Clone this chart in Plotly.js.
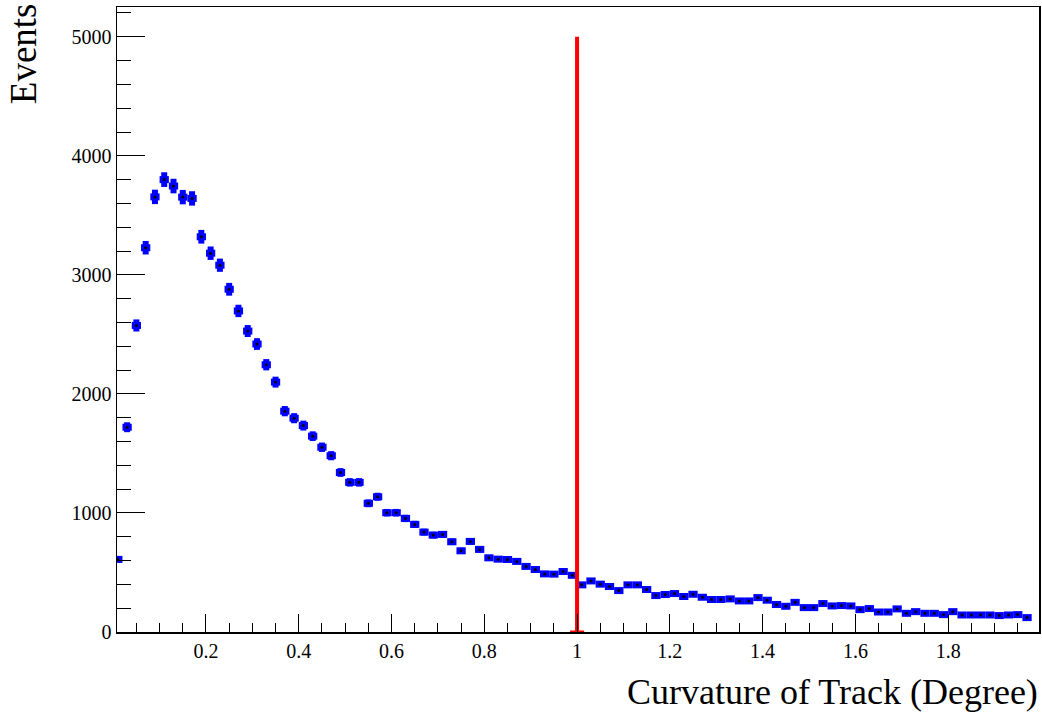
<!DOCTYPE html>
<html>
<head>
<meta charset="utf-8">
<script src="https://cdn.plot.ly/plotly-3.0.1.min.js"></script>
<style>html,body{margin:0;padding:0;background:#fff;}#chart{width:1042px;height:712px;}</style>
</head>
<body>
<div id="chart"></div>
<script>
// Bin centres (bin width 0.02)
const binCenters = [
  0.01,0.03,0.05,0.07,0.09,0.11,0.13,0.15,0.17,0.19,
  0.21,0.23,0.25,0.27,0.29,0.31,0.33,0.35,0.37,0.39,
  0.41,0.43,0.45,0.47,0.49,0.51,0.53,0.55,0.57,0.59,
  0.61,0.63,0.65,0.67,0.69,0.71,0.73,0.75,0.77,0.79,
  0.81,0.83,0.85,0.87,0.89,0.91,0.93,0.95,0.97,0.99,
  1.01,1.03,1.05,1.07,1.09,1.11,1.13,1.15,1.17,1.19,
  1.21,1.23,1.25,1.27,1.29,1.31,1.33,1.35,1.37,1.39,
  1.41,1.43,1.45,1.47,1.49,1.51,1.53,1.55,1.57,1.59,
  1.61,1.63,1.65,1.67,1.69,1.71,1.73,1.75,1.77,1.79,
  1.81,1.83,1.85,1.87,1.89,1.91,1.93,1.95,1.97
];
const binHalfWidth = 0.01;
// Events per bin
const events = [
  610,1720,2575,3228,3655,3800,3746,3653,3642,3320,
  3182,3081,2879,2697,2528,2419,2245,2099,1855,1796,
  1734,1645,1552,1481,1340,1257,1257,1081,1136,1002,
  1002,954,904,839,814,820,758,682,761,694,
  623,612,609,593,551,525,488,486,508,476,
  396,429,402,382,348,396,396,357,306,315,
  323,298,317,292,273,273,278,261,261,289,
  267,231,216,249,205,205,239,219,222,219,
  188,197,168,168,194,157,171,157,157,146,
  171,143,143,143,143,138,143,146,121
];
// Statistical (Poisson) errors
const eventErrors = events.map(v => Math.sqrt(v));
// Cut line
const cutX = [1.0, 1.0];
const cutY = [0, 5000];

const serif = 'Liberation Serif, Times New Roman, serif';

const traces = [
  {
    type: 'scatter', mode: 'markers',
    x: binCenters, y: events,
    marker: {color: 'black', size: 3},
    error_y: {type: 'data', array: eventErrors, visible: true, color: '#0000ff', thickness: 6, width: 0},
    error_x: {type: 'constant', value: binHalfWidth, visible: true, color: '#0000ff', thickness: 7, width: 0},
    hoverinfo: 'x+y', showlegend: false
  },
  {
    type: 'scatter', mode: 'lines',
    x: cutX, y: cutY,
    line: {color: '#ff0000', width: 4},
    showlegend: false
  },
  {
    type: 'scatter', mode: 'markers',
    x: [cutX[0]], y: [cutY[0]],
    marker: {symbol: 'line-ew', size: 10, color: '#ff0000', line: {color: '#ff0000', width: 3}},
    cliponaxis: false,
    showlegend: false
  }
];

const layout = {
  width: 1042, height: 712,
  margin: {l: 117, r: 3, t: 7, b: 80},
  paper_bgcolor: '#ffffff', plot_bgcolor: '#ffffff',
  font: {family: serif, color: '#000000', size: 20},
  showlegend: false,
  xaxis: {
    range: [0.0082, 1.9958],
    showgrid: false, zeroline: false,
    showline: true, linecolor: '#000', linewidth: 1.5, mirror: true,
    ticks: 'inside', ticklen: 18, tickwidth: 1, tickcolor: '#000',
    tick0: 0, dtick: 0.2,
    minor: {ticks: 'inside', ticklen: 9, tickwidth: 1, tickcolor: '#000', dtick: 0.05, tick0: 0, showgrid: false},
    tickfont: {family: serif, size: 20, color: '#000'}
  },
  yaxis: {
    range: [0, 5250],
    showgrid: false, zeroline: false,
    showline: true, linecolor: '#000', linewidth: 1.5, mirror: true,
    ticks: 'inside', ticklen: 28, tickwidth: 1, tickcolor: '#000',
    tick0: 0, dtick: 1000,
    minor: {ticks: 'inside', ticklen: 14, tickwidth: 1, tickcolor: '#000', dtick: 200, tick0: 0, showgrid: false},
    tickfont: {family: serif, size: 20, color: '#000'}
  },
  annotations: [
    {
      text: 'Events', xref: 'paper', yref: 'paper',
      x: -0.102, y: 1.01, xanchor: 'center', yanchor: 'top',
      textangle: -90, showarrow: false,
      font: {family: serif, size: 37, color: '#000'}
    },
    {
      text: 'Curvature of Track (Degree)', xref: 'paper', yref: 'paper',
      x: 1.001, y: -0.096, xanchor: 'right', yanchor: 'middle',
      showarrow: false,
      font: {family: serif, size: 36, color: '#000'}
    }
  ]
};

Plotly.newPlot('chart', traces, layout, {displayModeBar: false, staticPlot: true});
</script>
</body>
</html>
